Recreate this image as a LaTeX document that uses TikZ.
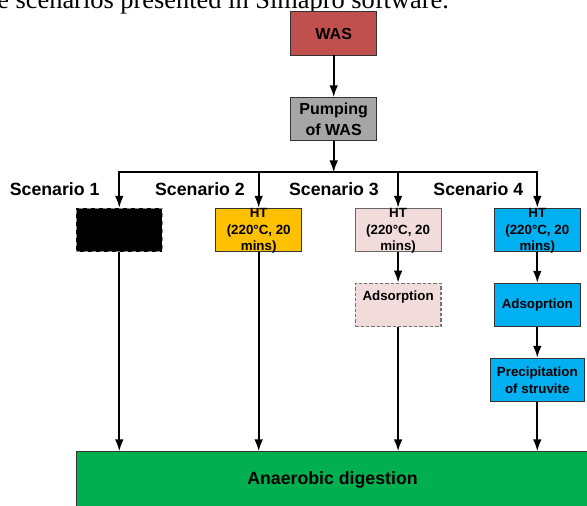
\documentclass[tikz,border=0pt]{standalone}
\usepackage{fontspec}
\setmainfont{Liberation Sans}
\newfontfamily\serifcap{Liberation Serif}
\usetikzlibrary{arrows.meta, positioning}
\definecolor{wasred}{HTML}{C0504D}
\definecolor{pumpgray}{HTML}{A6A6A6}
\definecolor{htyellow}{HTML}{FFC000}
\definecolor{htpink}{HTML}{F2DCDB}
\definecolor{htblue}{HTML}{00B0F0}
\definecolor{adgreen}{HTML}{00B050}
\tikzstyle{flow}=[line width=1.5pt, -{Latex[length=9pt,width=6.5pt]}]
\tikzstyle{topbox}=[draw=black!80, line width=0.7pt, inner sep=0pt, align=center, minimum width=64.5pt, minimum height=32.3pt, font=\fontsize{12}{16}\selectfont\bfseries]
\tikzstyle{box}=[draw=black!80, line width=0.7pt, inner sep=0pt, align=center, minimum width=64.3pt, minimum height=32.5pt, font=\fontsize{10}{12.5}\selectfont\bfseries]
\tikzstyle{smalltext}=[inner sep=0pt, align=center, font=\fontsize{10}{12.5}\selectfont\bfseries]
\tikzstyle{scen}=[inner sep=0pt, anchor=base, font=\fontsize{13.3}{16}\selectfont\bfseries]

\begin{document}
\begin{tikzpicture}[x=0.75pt, y=-0.75pt]
        \useasboundingbox (0,0) rectangle (587,506);

		\node[anchor=base west, inner sep=0pt, font=\serifcap\fontsize{19.8}{22}\selectfont] (cap) at (-3,8.3) {e scenarios presented in Simapro software.};

		\node[topbox, fill=wasred] (was) at (333.7,33.5) {WAS};
		\node[topbox, fill=pumpgray] (pump) at (333.7,119.3) {Pumping\\of WAS};

		\coordinate (split) at (333.7,172.5);
		\coordinate (s1) at (119.3,172.5);
		\coordinate (s2) at (258.7,172.5);
		\coordinate (s3) at (398.1,172.5);
		\coordinate (s4) at (537.3,172.5);

		\node[scen] (sc1) at (54.7,195.7) {Scenario 1};
		\node[scen] (sc2) at (200,195.7) {Scenario 2};
		\node[scen] (sc3) at (334,195.7) {Scenario 3};
		\node[scen] (sc4) at (478.3,195.7) {Scenario 4};

		\node[box, draw=black!45, dashed, fill=black] (b1) at (119.3,230) {};
		\node[box, fill=htyellow] (b2) at (258.7,230) {};
		\node[box, draw=black!60, fill=htpink] (b3) at (398.1,230) {};
		\node[box, fill=htblue] (b4) at (537.3,230) {};
		\foreach \b in {b2,b3,b4}
		\node[smalltext] (t\b) at ([yshift=-0.6pt]\b.center) {HT\\(220°C, 20\\mins)};

		\node[box, draw=black!55, line width=0.9pt, dash pattern=on 2.5pt off 1.5pt, fill=htpink] (a3) at (398.1,305) {};
		\node[smalltext] (ta3) at ([yshift=6.2pt]a3.center) {Adsorption};
		\node[box, fill=htblue] (a4) at (537.3,305) {Adsoprtion};
		\node[box, fill=htblue, minimum width=70pt] (p4) at (537.3,380) {Precipitation\\of struvite};

		\node[box, fill=adgreen, minimum width=383.5pt, minimum height=42.2pt, font=\fontsize{13.3}{16}\selectfont\bfseries] (ad) at (332.5,480) {Anaerobic digestion};

		\draw[flow] (was) -- (pump);
		\draw[flow] (pump) -- (split);
		\draw[line width=1.5pt, line cap=rect] (s1) -- (s4);

		\foreach \from / \to in {s1/b1,s2/b2,s3/b3,s4/b4,b3/a3,b4/a4,a4/p4}
		\draw[flow] (\from) -- (\to);

		\foreach \from in {b1,b2,a3,p4}
		\draw[flow] (\from) -- (\from |- ad.north);

	\end{tikzpicture}
\end{document}
